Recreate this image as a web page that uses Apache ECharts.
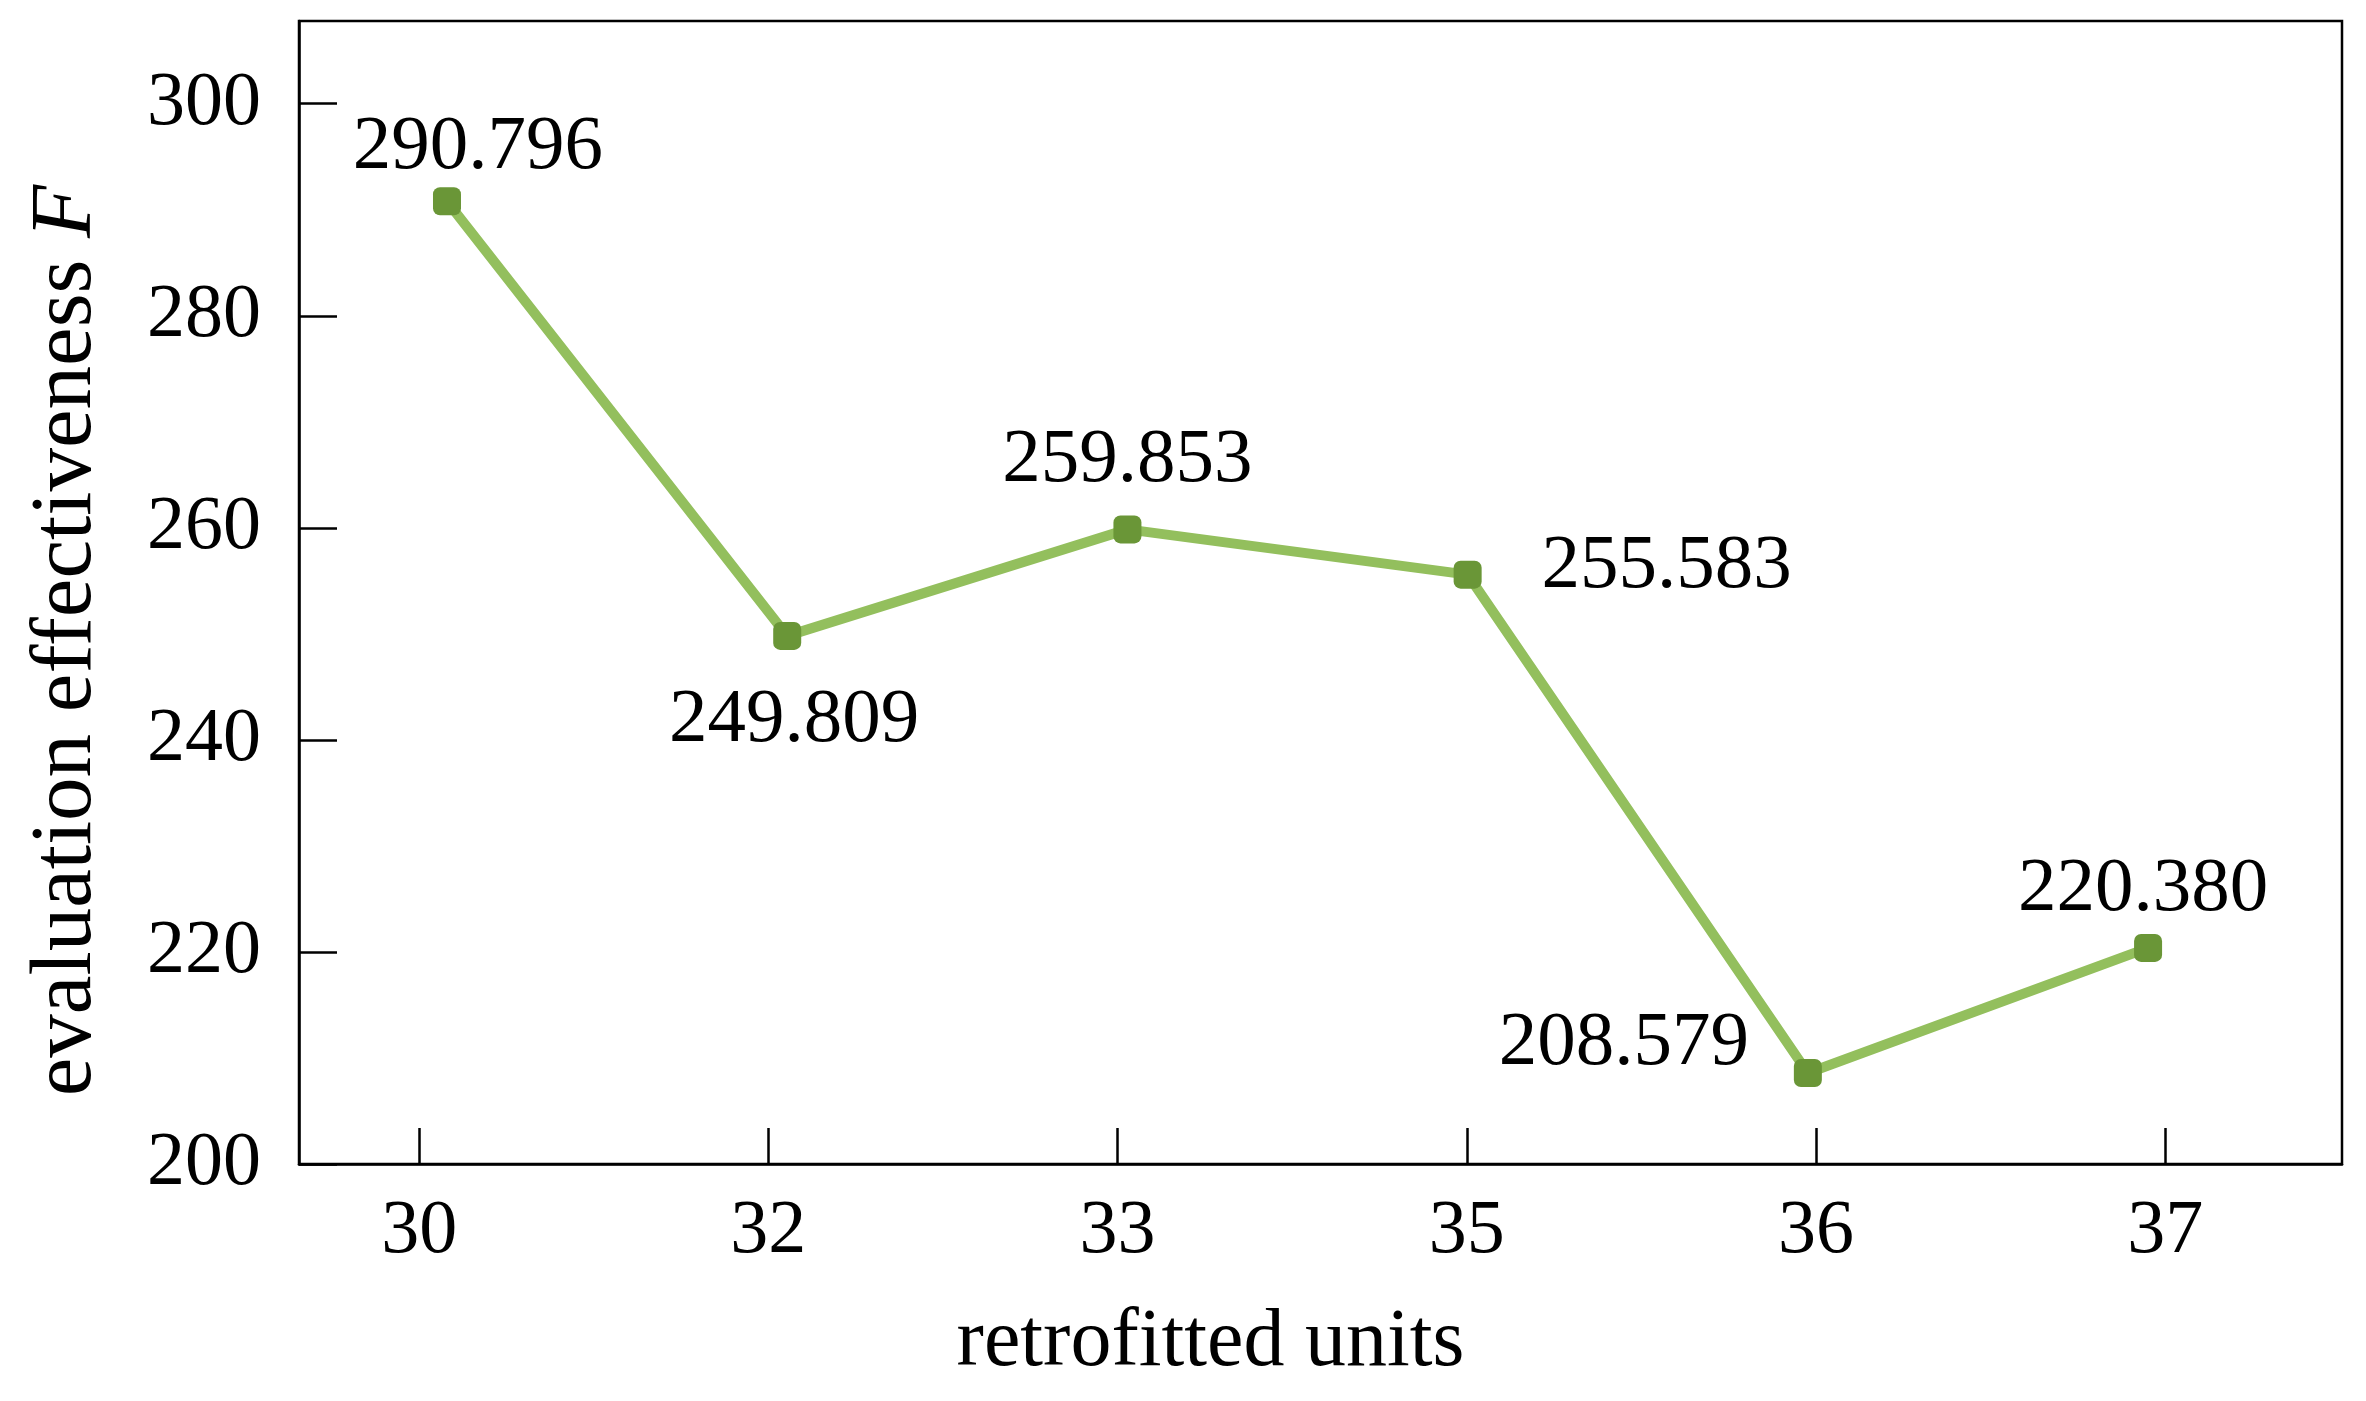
<!DOCTYPE html>
<html>
<head>
<meta charset="utf-8">
<title>evaluation effectiveness</title>
<script src="https://cdn.jsdelivr.net/npm/echarts@6/dist/echarts.min.js"></script>
<style>
  html, body { margin: 0; padding: 0; background: #fff; }
  #chart { width: 2366px; height: 1401px; }
</style>
</head>
<body>
<div id="chart"></div>
<script>
// retrofitted units (x tick labels) and evaluation effectiveness F
const unitLabels = ['30', '32', '33', '35', '36', '37'];
const fValues = [290.796, 249.809, 259.853, 255.583, 208.579, 220.380];

// where each value label sits relative to its marker (px)
const labelOffsets = [[31, -54], [7, 85], [0, -69], [199, -8], [-184, -29], [-5, -58]];

const font = 'Liberation Serif';
const chart = echarts.init(document.getElementById('chart'));

const option = {
  animation: false,
  grid: {
    left: 299, right: 24, top: 21, bottom: 237,
    show: true,
    borderColor: '#000',
    borderWidth: 2.5,
    containLabel: false,
    outerBoundsMode: 'none'
  },
  xAxis: [
    {
      // visible axis, only for the ticks and labels
      type: 'value',
      min: -0.344,
      max: 5.506,
      position: 'bottom',
      axisLine: { show: true, onZero: false, lineStyle: { color: '#000', width: 2.5 } },
      axisTick: { show: true, inside: true, length: 36, customValues: [0, 1, 2, 3, 4, 5], lineStyle: { color: '#000', width: 2.5 } },
      axisLabel: {
        customValues: [0, 1, 2, 3, 4, 5],
        formatter: v => unitLabels[Math.round(v)],
        color: '#000', fontFamily: font, fontSize: 76, margin: 30
      },
      splitLine: { show: false },
      name: 'retrofitted units',
      nameLocation: 'middle',
      nameGap: 138,
      nameTextStyle: { color: '#000', fontFamily: font, fontSize: 82, padding: [0, 220, 0, 0] }
    },
    {
      // hidden axis the line is drawn on
      type: 'value',
      min: -0.435,
      max: 5.570,
      position: 'bottom',
      show: false
    }
  ],
  yAxis: {
    type: 'value',
    min: 200,
    max: 307.8,
    interval: 20,
    axisLine: { show: true, onZero: false, lineStyle: { color: '#000', width: 2.5 } },
    axisTick: { show: true, inside: true, length: 38, lineStyle: { color: '#000', width: 2.5 } },
    axisLabel: {
      color: '#000', fontFamily: font, fontSize: 76, margin: 38,
      showMaxLabel: false
    },
    splitLine: { show: false },
    name: 'evaluation effectiveness {i|F}',
    nameLocation: 'middle',
    nameGap: 188,
    nameTextStyle: {
      color: '#000', fontFamily: font, fontSize: 87, padding: [0, 96, 0, 0],
      rich: { i: { fontFamily: font, fontSize: 87, fontStyle: 'italic', color: '#000' } }
    }
  },
  series: [{
    type: 'line',
    xAxisIndex: 1,
    data: fValues.map((v, i) => ({
      value: [i, v],
      label: { offset: labelOffsets[i] }
    })),
    symbol: 'roundRect',
    symbolSize: 28,
    itemStyle: { color: '#6a9637' },
    lineStyle: { color: '#93bf5d', width: 10 },
    label: {
      show: true,
      position: 'inside',
      formatter: p => p.value[1].toFixed(3),
      color: '#000',
      fontFamily: font,
      fontSize: 77
    },
    z: 3
  }]
};

chart.setOption(option);
</script>
</body>
</html>
